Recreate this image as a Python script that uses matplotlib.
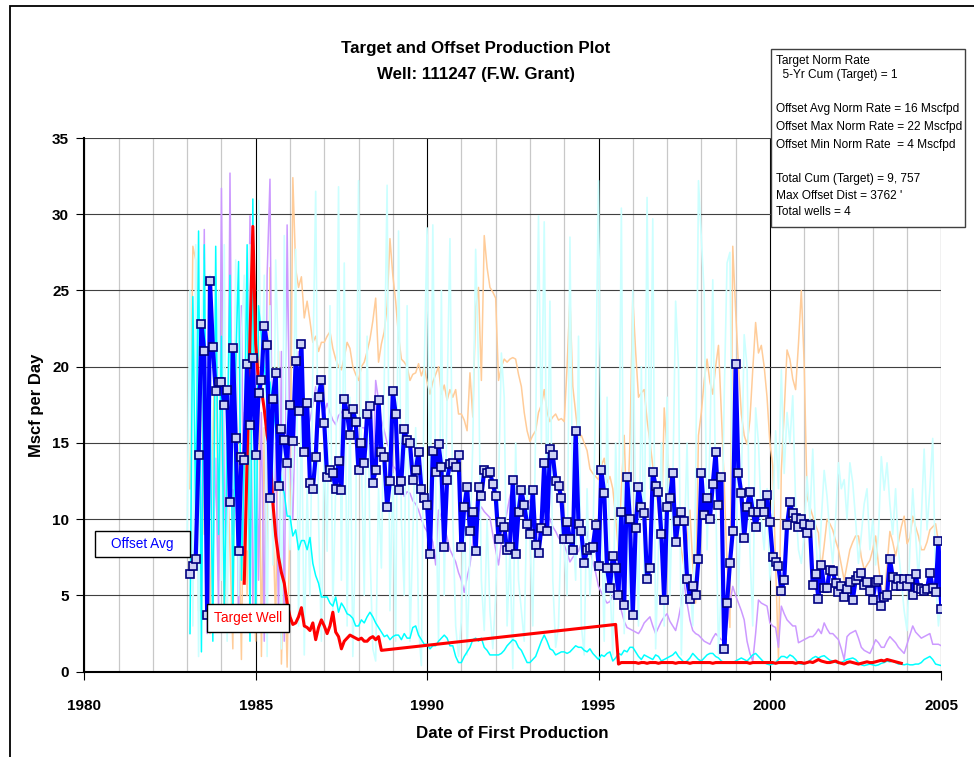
import numpy as np
import matplotlib
matplotlib.use("Agg")
import matplotlib.pyplot as plt
from matplotlib.patches import Rectangle
from matplotlib.ticker import MultipleLocator

plt.rcParams["font.family"] = ["Liberation Sans", "DejaVu Sans"]

nan = np.nan

# ---- data (monthly values) ----
# offset average, Feb 1983 .. Jan 2005 (each row = 12 months)
OFFSET_AVG = [
    6.4, 6.9, 7.4, 14.2, 22.8, 21.0, 3.7, 25.6, 21.3, 18.4, 19.0, 19.0,
    17.5, 18.5, 11.1, 21.2, 15.3, 7.9, 14.1, 13.9, 20.2, 16.2, 20.6, 14.2,
    18.3, 19.1, 22.7, 21.4, 11.4, 17.9, 19.6, 12.2, 15.9, 15.2, 13.7, 17.5,
    15.1, 20.4, 17.1, 21.5, 14.4, 17.6, 12.4, 12.0, 14.1, 18.0, 19.1, 16.3,
    12.8, 13.2, 13.0, 12.0, 13.8, 11.9, 17.9, 16.9, 15.5, 17.2, 16.4, 13.2,
    15.0, 13.7, 16.9, 17.4, 12.4, 13.2, 17.8, 14.4, 14.1, 10.8, 12.5, 18.4,
    16.9, 11.9, 12.5, 15.9, 15.2, 15.0, 12.6, 13.2, 14.4, 12.0, 11.4, 10.9,
    7.7, 14.5, 13.1, 14.9, 13.4, 8.2, 12.6, 13.6, 13.7, 13.4, 14.2, 8.2,
    10.8, 12.1, 9.2, 10.5, 7.9, 12.1, 11.5, 13.2, 13.0, 13.1, 12.3, 11.5,
    8.7, 9.8, 9.5, 8.0, 8.2, 12.6, 7.7, 10.5, 11.9, 10.9, 9.7, 9.0,
    11.9, 8.3, 7.8, 9.4, 13.7, 9.2, 14.6, 14.2, 12.5, 12.2, 11.4, 8.7,
    9.8, 8.7, 8.0, 15.8, 9.7, 9.2, 7.1, 8.0, 8.1, 8.2, 9.6, 6.9,
    13.2, 11.7, 6.8, 5.5, 7.6, 6.8, 5.0, 10.5, 4.4, 12.8, 10.0, 3.7,
    9.4, 12.1, 10.8, 10.4, 6.1, 6.8, 13.1, 12.2, 11.8, 9.0, 4.7, 10.8,
    11.4, 13.0, 8.5, 9.9, 10.5, 9.9, 6.1, 4.8, 5.6, 5.0, 7.4, 13.0,
    10.3, 11.4, 10.0, 12.3, 14.4, 10.9, 12.8, 1.5, 4.5, 7.1, 9.2, 20.2,
    13.0, 11.7, 8.8, 10.8, 11.8, 10.5, 9.5, 10.5, 11.0, 10.5, 11.6, 9.8,
    7.5, 7.2, 6.9, 5.3, 6.0, 9.6, 11.1, 10.4, 10.1, 9.5, 10.0, 9.7,
    9.1, 9.6, 5.7, 6.4, 4.8, 7.0, 5.5, 5.5, 6.7, 6.6, 5.8, 5.2,
    5.6, 4.9, 5.4, 5.9, 4.7, 6.0, 6.3, 6.5, 5.7, 5.9, 5.3, 4.7,
    5.9, 6.0, 4.3, 4.9, 5.0, 7.4, 6.2, 5.6, 6.1, 5.6, 6.1, 5.6,
    6.1, 5.0, 6.4, 5.5, 5.4, 5.3, 5.4, 6.5, 5.5, 5.2, 8.6, 4.1,
]

# target well: Sep 1984 .. Sep 1988, then Jul 1995 .. Nov 2003
TARGET_EARLY = [
    5.8, 14.0, 22.0, 29.2,
    21.5, 19.0, 18.5, 17.2, 15.5, 14.6, 11.1, 8.9, 7.5, 6.5, 5.8, 4.5,
    3.6, 3.1, 3.2, 3.6, 4.2, 3.0, 2.9, 2.7, 3.2, 2.1, 2.9, 3.4,
    3.0, 2.5, 3.0, 3.9, 2.6, 2.3, 1.5, 2.0, 2.2, 2.4, 2.3, 2.2,
    2.1, 2.2, 2.0, 2.0, 2.2, 2.3, 2.1, 2.3, 1.4,
]
TARGET_LATE = [
    3.1, 0.5, 0.6, 0.6, 0.6, 0.6,
    0.6, 0.6, 0.55, 0.6, 0.6, 0.55, 0.6, 0.6, 0.6, 0.55, 0.6, 0.6,
    0.6, 0.6, 0.6, 0.55, 0.6, 0.6, 0.6, 0.6, 0.55, 0.6, 0.6, 0.6,
    0.6, 0.6, 0.6, 0.6, 0.55, 0.6, 0.6, 0.6, 0.6, 0.6, 0.6, 0.6,
    0.6, 0.6, 0.6, 0.6, 0.6, 0.55, 0.6, 0.6, 0.6, 0.6, 0.6, 0.6,
    0.6, 0.6, 0.55, 0.6, 0.6, 0.6, 0.6, 0.6, 0.6, 0.55, 0.6, 0.6,
    0.55, 0.6, 0.65, 0.6, 0.7, 0.8, 0.7, 0.65, 0.6, 0.6, 0.65, 0.7,
    0.6, 0.55, 0.5, 0.6, 0.65, 0.6, 0.55, 0.5, 0.55, 0.6, 0.65, 0.6,
    0.6, 0.65, 0.7, 0.75, 0.7, 0.8, 0.75, 0.7, 0.65, 0.6, 0.55,
]

# offset wells, Jan 1983 .. Jan 2005
OFFSET_ORANGE = [
    nan, 12.0, 27.9, 27.0, 4.0, 20.0, 9.0, 18.0, 2.5, 15.0, 23.0, 6.0,
    19.0, 3.0, 14.0, 8.0, 1.5, 24.0, 11.0, 0.8, 17.0, 5.0, 20.0, 9.0,
    2.0, 22.0, 1.0, 16.0, 6.0, 26.5, 10.0, 3.0, 21.0, 0.5, 8.0, 0.3,
    10.0, 32.4, 26.4, 25.2, 25.9, 23.2, 24.3, 23.0, 21.6, 22.0, 21.0, 21.6,
    21.6, 22.0, 22.3, 21.2, 20.5, 20.0, 19.8, 20.6, 21.6, 21.2, 20.0, 19.5,
    19.1, 20.0, 20.3, 21.0, 21.8, 23.0, 24.5, 20.3, 21.5, 22.3, 24.0, 28.4,
    26.0, 24.3, 22.0, 20.5, 20.3, 20.0, 19.1, 19.5, 19.6, 20.2, 19.4, 20.0,
    19.0, 18.2, 19.0, 19.5, 20.0, 18.2, 18.8, 17.8, 18.5, 18.0, 18.5, 16.9,
    16.9, 16.5, 15.8, 19.6, 16.7, 23.9, 25.2, 19.1, 28.6, 26.5, 25.2, 24.9,
    24.5, 19.1, 20.0, 20.5, 20.3, 20.5, 20.6, 20.5, 19.5, 18.7, 17.0, 15.8,
    15.1, 15.5, 15.8, 17.0, 17.5, 18.5, 17.0, 16.4, 16.7, 16.9, 16.5, 16.6,
    16.4, 20.0, 24.5, 18.7, 17.0, 15.3, 15.5, 15.0, 14.5, 13.3, 13.0, 12.8,
    12.6, 13.5, 14.0, 12.4, 12.8, 12.0, 10.1, 7.9, 12.0, 15.5, 9.5, 15.0,
    24.5, 21.0, 18.0, 18.3, 18.5, 16.5, 15.1, 13.5, 12.4, 10.5, 9.0, 17.3,
    14.5, 12.4, 11.5, 10.6, 9.0, 8.0, 6.8, 8.5, 10.6, 7.0, 4.5, 15.5,
    17.0, 19.1, 20.5, 19.0, 18.2, 20.0, 21.4, 17.0, 12.4, 7.0, 2.9, 27.9,
    23.7, 20.0, 16.9, 15.5, 14.9, 16.5, 19.8, 22.9, 20.9, 21.4, 20.0, 18.0,
    15.0, 13.5, 7.0, 0.8, 13.2, 17.0, 21.1, 20.5, 19.2, 18.5, 21.5, 25.0,
    20.2, 11.5, 10.8, 10.2, 9.6, 9.1, 6.7, 8.3, 10.0, 9.7, 9.3, 8.6,
    8.0, 7.0, 6.0, 7.0, 8.0, 8.5, 8.9, 8.9, 7.5, 6.7, 7.0, 7.3,
    8.0, 8.9, 7.0, 5.5, 4.7, 7.0, 9.2, 8.5, 7.6, 8.5, 9.5, 10.2,
    8.4, 8.8, 10.2, 9.5, 8.9, 8.0, 8.0, 8.5, 9.3, 9.5, 9.7, 8.5,
    6.9,
]

OFFSET_PURPLE = [
    nan, nan, nan, nan, nan, 5.0, 29.0, 2.5, 21.0, 7.0, 14.0, 4.0,
    31.7, 12.0, 5.0, 32.7, 9.0, 18.0, 3.0, 24.0, 7.0, 13.0, 29.9, 4.0,
    22.0, 6.0, 17.0, 2.0, 26.0, 32.3, 8.0, 15.0, 3.5, 21.0, 2.0, 29.3,
    14.0, 10.0, 18.0, 21.0, 19.0, 17.0, 16.0, 16.5, 17.5, 18.7, 18.0, 17.6,
    17.0, 17.6, 17.0, 16.5, 16.2, 16.8, 17.0, 17.3, 17.0, 16.6, 16.4, 16.4,
    16.2, 16.0, 16.0, 15.0, 14.0, 12.4, 19.1, 17.8, 16.5, 15.8, 15.0, 14.5,
    13.5, 13.3, 12.8, 12.2, 11.5, 11.8, 11.7, 11.2, 11.0, 10.6, 10.0, 9.5,
    9.2, 9.0, 8.5, 7.0, 10.6, 10.1, 9.5, 8.8, 8.0, 7.6, 7.2, 6.5,
    6.0, 5.2, 6.2, 7.0, 8.5, 10.1, 10.5, 10.8, 10.5, 10.3, 10.1, 9.0,
    8.0, 7.0, 8.5, 9.5, 10.5, 11.5, 12.2, 12.8, 11.5, 10.8, 10.1, 10.8,
    11.3, 10.2, 9.5, 9.0, 10.0, 11.0, 10.5, 10.0, 9.5, 9.2, 8.8, 8.5,
    8.3, 7.8, 7.2, 7.5, 7.7, 7.9, 8.5, 9.0, 9.2, 8.0, 7.2, 6.5,
    5.6, 5.2, 4.8, 4.5, 4.6, 5.0, 5.2, 5.4, 4.0, 3.3, 2.9, 2.8,
    2.7, 2.6, 2.5, 2.8, 3.2, 3.4, 3.6, 3.0, 2.5, 2.9, 3.3, 3.6,
    3.8, 3.3, 3.0, 2.7, 3.5, 4.5, 5.8, 4.5, 3.4, 2.7, 2.5, 2.4,
    2.2, 2.0, 1.9, 1.8, 2.2, 2.5, 2.3, 2.1, 2.0, 3.0, 4.5, 5.6,
    5.0, 4.5, 4.0, 3.4, 2.0, 1.2, 0.7, 2.5, 4.7, 4.5, 4.4, 4.3,
    3.2, 3.0, 2.9, 1.6, 4.3, 3.8, 3.4, 3.2, 3.0, 3.0, 1.9, 2.0,
    2.1, 2.2, 2.3, 2.3, 2.5, 2.8, 2.5, 3.2, 2.8, 2.5, 2.5, 2.3,
    2.1, 1.5, 0.8, 2.3, 2.5, 2.6, 2.7, 2.2, 1.6, 1.4, 1.3, 1.2,
    1.6, 2.1, 1.9, 1.6, 1.6, 2.0, 2.3, 2.1, 1.9, 1.6, 1.4, 1.2,
    1.8, 2.4, 3.0, 2.6, 2.4, 2.2, 2.3, 2.4, 2.5, 1.8, 1.8, 1.8,
    1.7,
]

OFFSET_CYAN = [
    nan, 2.5, 24.6, 10.0, 28.9, 1.3, 28.0, 5.0, 18.0, 2.0, 27.9, 9.0,
    22.0, 4.0, 15.0, 26.0, 3.0, 20.0, 26.9, 6.0, 14.0, 28.0, 2.0, 31.0,
    3.0, 24.0, 22.0, 20.0, 18.0, 19.0, 17.4, 16.0, 14.0, 12.4, 11.7, 10.2,
    10.2, 8.9, 9.3, 8.0, 8.6, 8.6, 8.0, 8.8, 7.1, 6.3, 5.8, 4.9,
    4.9, 4.9, 4.5, 4.3, 4.9, 3.9, 4.5, 4.2, 3.8, 3.7, 3.5, 3.0,
    3.0, 3.4, 3.2, 3.6, 3.9, 3.6, 3.2, 2.9, 2.6, 2.3, 2.4, 2.1,
    2.3, 2.4, 2.4, 2.1, 2.5, 2.2, 2.2, 2.9, 3.0, 2.4, 2.1, 1.8,
    1.8, 1.5, 1.7, 1.7, 2.0, 2.2, 2.4, 2.2, 1.7, 1.7, 1.0, 0.6,
    0.6, 1.0, 1.3, 1.6, 2.1, 2.2, 2.0, 2.2, 1.6, 1.4, 1.1, 1.1,
    1.1, 1.1, 1.2, 1.4, 1.7, 1.9, 2.1, 2.0, 1.6, 1.4, 1.0, 0.6,
    0.6, 0.8, 1.0, 1.5, 2.0, 2.4, 2.0, 1.5, 1.4, 1.1, 1.2, 1.3,
    1.3, 1.2, 1.3, 1.5, 1.7, 1.6, 1.6, 1.4, 1.3, 1.5, 1.2, 1.0,
    0.8, 1.1, 1.0, 1.2, 1.3, 0.7, 0.9, 1.2, 1.1, 1.4, 1.3, 1.6,
    1.6, 1.3, 1.0, 0.8, 1.1, 1.0, 0.9, 0.8, 1.1, 1.0, 0.7, 0.8,
    0.9, 1.0, 1.1, 1.3, 1.0, 0.8, 0.6, 0.7, 0.9, 1.2, 1.0, 0.8,
    0.7, 0.9, 1.1, 1.2, 1.2, 1.0, 0.9, 0.7, 0.6, 0.6, 0.55, 0.6,
    0.7, 0.8, 0.9, 0.8, 0.7, 0.9, 1.1, 1.2, 1.0, 0.8, 0.6, 0.5,
    0.45, 0.5, 0.6, 0.8, 1.0, 1.0, 0.9, 1.1, 1.0, 0.8, 0.55, 0.5,
    0.5, 0.6, 0.75, 0.9, 1.0, 0.9, 1.0, 1.05, 0.9, 0.75, 0.7, 0.6,
    0.55, 0.6, 0.7, 0.8, 0.85, 0.9, 0.8, 0.6, 0.45, 0.4, 0.45, 0.5,
    0.45, 0.4, 0.45, 0.55, 0.6, 0.7, 0.65, 0.7, 0.6, 0.5, 0.5, 0.45,
    0.5, 0.45, 0.45, 0.5, 0.5, 0.6, 0.8, 0.9, 1.0, 0.8, 0.5, 0.45,
    0.4,
]

OFFSET_PALE = [
    9.0, 25.0, 3.0, 28.0, 1.0, 22.0, 27.0, 10.0, 26.0, 4.0, 20.0, 25.0,
    6.0, 28.0, 2.0, 23.0, 12.0, 27.0, 5.0, 22.0, 26.0, 8.0, 28.0, 14.0,
    3.0, 30.9, 18.0, 26.0, 1.0, 24.0, 7.0, 27.0, 20.0, 1.5, 28.6, 16.0,
    8.0, 14.0, 27.7, 3.0, 18.0, 1.1, 12.0, 5.0, 20.0, 31.5, 10.0, 2.0,
    15.0, 7.9, 24.0, 4.0, 12.0, 31.8, 6.0, 26.8, 3.0, 18.0, 1.0, 9.0,
    32.2, 14.0, 5.0, 22.0, 8.0, 1.5, 0.7, 12.0, 6.8, 19.0, 31.9, 4.0,
    13.0, 2.0, 28.9, 10.0, 5.0, 24.0, 2.0, 9.0, 16.0, 3.0, 0.4, 20.0,
    29.1, 8.0, 29.3, 12.0, 2.0, 25.0, 5.0, 18.0, 28.4, 10.0, 3.0, 1.0,
    3.4, 12.0, 1.1, 8.0, 15.0, 27.7, 20.0, 6.0, 2.7, 10.0, 4.0, 1.5,
    5.0, 12.0, 20.9, 18.0, 3.0, 8.0, 0.2, 15.0, 6.0, 4.0, 2.0, 12.0,
    9.0, 3.0, 16.0, 29.9, 15.0, 29.5, 10.0, 24.3, 6.0, 1.6, 3.0, 10.0,
    8.0, 5.0, 28.5, 10.0, 6.0, 22.0, 3.0, 1.1, 12.0, 5.0, 8.0, 18.0,
    32.2, 10.0, 2.0, 18.0, 6.0, 1.1, 15.0, 8.0, 30.4, 2.5, 12.0, 4.0,
    25.0, 10.0, 3.0, 20.0, 6.0, 31.1, 12.0, 29.7, 1.5, 8.0, 15.0, 3.0,
    18.0, 5.0, 12.0, 24.3, 20.0, 1.1, 8.0, 15.0, 6.0, 3.0, 12.0, 32.2,
    28.4, 24.8, 8.0, 15.0, 25.7, 12.0, 1.1, 6.0, 18.0, 26.8, 27.5, 10.0,
    15.0, 5.0, 12.0, 22.1, 20.0, 8.0, 3.0, 17.3, 15.0, 10.0, 8.0, 12.0,
    6.0, 10.0, 15.8, 12.0, 19.8, 13.0, 17.0, 15.0, 18.1, 11.0, 8.0, 7.1,
    9.0, 12.8, 10.0, 14.6, 9.0, 5.8, 10.0, 13.2, 11.5, 9.0, 7.1, 10.0,
    13.7, 12.0, 12.6, 10.0, 13.7, 12.4, 10.0, 7.1, 9.0, 11.0, 12.0, 8.0,
    10.0, 7.0, 9.0, 14.1, 11.9, 13.7, 11.0, 9.0, 12.0, 8.0, 6.0, 4.0,
    2.7, 8.0, 12.0, 9.0, 6.0, 10.0, 14.6, 9.3, 12.0, 15.3, 6.0, 3.0,
    5.0,
]

INFO_LINES = [
    "Target Norm Rate",
    "  5-Yr Cum (Target) = 1",
    "Offset Avg Norm Rate = 16 Mscfpd",
    "Offset Max Norm Rate = 22 Mscfpd",
    "Offset Min Norm Rate  = 4 Mscfpd",
    "Total Cum (Target) = 9, 757",
    "Max Offset Dist = 3762 '",
    "Total wells = 4",
]


def months(year, month, n):
    return year + (month - 1 + np.arange(n)) / 12.0


W, H = 974, 757


def fx(px):
    return px / W


def fy(py):
    return 1 - py / H


fig = plt.figure(figsize=(W / 100, H / 100), dpi=100)
ax = fig.add_axes([fx(84.3), fy(671.7), fx(941.3) - fx(84.3), fy(138) - fy(671.7)])

# offset wells (thin)
ax.plot(months(1983, 1, len(OFFSET_ORANGE)), OFFSET_ORANGE, color="#FFCC99", lw=1.1, zorder=2)
ax.plot(months(1983, 1, len(OFFSET_PURPLE)), OFFSET_PURPLE, color="#CC99FF", lw=1.1, zorder=2)
ax.plot(months(1983, 1, len(OFFSET_PALE)), OFFSET_PALE, color="#CCFFFF", lw=1.2, zorder=2)
ax.plot(months(1983, 1, len(OFFSET_CYAN)), OFFSET_CYAN, color="#00FFFF", lw=1.1, zorder=3)

# target well (gap between 1988 and 1995 is bridged, as in the original)
x_t = np.concatenate([months(1984, 9, len(TARGET_EARLY)), months(1995, 7, len(TARGET_LATE))])
y_t = np.concatenate([TARGET_EARLY, TARGET_LATE])
ax.plot(x_t, y_t, color="#FF0000", lw=2.2, zorder=4)

# offset average
ax.plot(months(1983, 2, len(OFFSET_AVG)), OFFSET_AVG, color="#0000FF", lw=3,
        marker="s", ms=5.6, mfc="#CDD2F4", mec="#000080", mew=1.2, zorder=5)

ax.set_xlim(1980, 2005)
ax.set_ylim(0, 35)
ax.xaxis.set_major_locator(MultipleLocator(5))
ax.xaxis.set_minor_locator(MultipleLocator(1))
ax.yaxis.set_major_locator(MultipleLocator(5))

ax.grid(which="minor", axis="x", color="#C8C8C8", lw=0.9, zorder=0)
ax.grid(which="major", axis="x", color="#000000", lw=0.8, zorder=0)
ax.grid(which="major", axis="y", color="#404040", lw=0.8, zorder=0)
ax.set_axisbelow(True)

for s in ["top", "right"]:
    ax.spines[s].set_visible(False)
for s in ["left", "bottom"]:
    ax.spines[s].set_linewidth(1.5)
    ax.spines[s].set_zorder(6)

ax.tick_params(axis="x", which="major", direction="out", length=6, width=0.8, pad=14)
ax.tick_params(axis="x", which="minor", length=0)
ax.tick_params(axis="y", direction="out", length=6, width=0.8, pad=5)
for lab in ax.get_xticklabels() + ax.get_yticklabels():
    lab.set_fontsize(11)
    lab.set_fontweight("bold")

# titles and axis labels
fig.text(fx(476), fy(48), "Target and Offset Production Plot", ha="center", va="center",
         fontsize=12.2, fontweight="bold")
fig.text(fx(476), fy(75), "Well: 111247 (F.W. Grant)", ha="center", va="center",
         fontsize=12.2, fontweight="bold")
fig.text(fx(37), fy(405), "Mscf per Day", rotation=90, ha="center", va="center",
         fontsize=12, fontweight="bold")
fig.text(fx(512), fy(733), "Date of First Production", ha="center", va="center",
         fontsize=12.2, fontweight="bold")

# series labels
fig.patches.append(Rectangle((fx(95), fy(557)), fx(190) - fx(95), fy(531) - fy(557),
                             transform=fig.transFigure, facecolor="white",
                             edgecolor="black", lw=1.0, zorder=10))
fig.text(fx(142.5), fy(544), "Offset Avg", color="#0000FF", ha="center", va="center",
         fontsize=9.8, zorder=11)
fig.patches.append(Rectangle((fx(207), fy(632)), fx(289) - fx(207), fy(604) - fy(632),
                             transform=fig.transFigure, facecolor="white",
                             edgecolor="black", lw=1.0, zorder=10))
fig.text(fx(248), fy(618), "Target Well", color="#FF0000", ha="center", va="center",
         fontsize=9.8, zorder=11)

# info box
fig.patches.append(Rectangle((fx(771), fy(227)), fx(965) - fx(771), fy(49) - fy(227),
                             transform=fig.transFigure, facecolor="white",
                             edgecolor="#404040", lw=1.0, zorder=10))
info_y = [61, 75, 109, 127, 145, 179, 196, 212]
for line, py in zip(INFO_LINES, info_y):
    fig.text(fx(776), fy(py), line, ha="left", va="center", fontsize=8.6, zorder=11)

# outer chart border
fig.patches.append(Rectangle((fx(10), -0.1), 1.2, fy(6) + 0.1, transform=fig.transFigure,
                             facecolor="none", edgecolor="black", lw=1.3, zorder=12))

fig.savefig("out.png", dpi=100)
